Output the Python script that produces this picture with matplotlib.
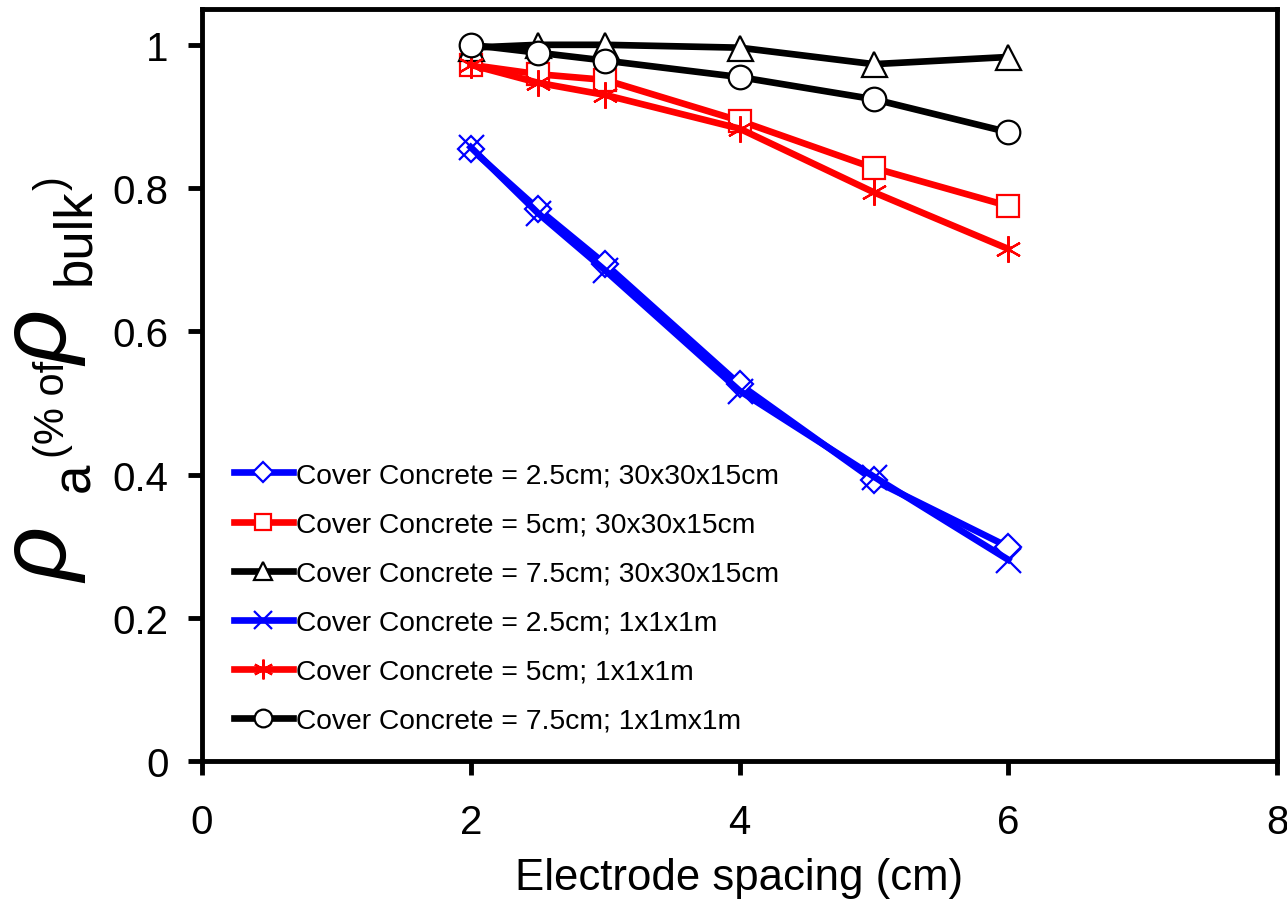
import matplotlib.pyplot as plt

plt.rcParams['font.family'] = ['Liberation Sans', 'DejaVu Sans']

# Espaçamento dos eletrodos (cm)
espacamento = [2, 2.5, 3, 4, 5, 6]

# Resistividade aparente normalizada
c25_30 = [0.855, 0.771, 0.694, 0.526, 0.392, 0.299]
c5_30 = [0.972, 0.959, 0.951, 0.894, 0.828, 0.775]
c75_30 = [0.996, 1.000, 1.000, 0.996, 0.973, 0.983]
c25_1m = [0.857, 0.765, 0.685, 0.517, 0.397, 0.281]
c5_1m = [0.972, 0.947, 0.930, 0.883, 0.794, 0.715]
c75_1m = [1.000, 0.989, 0.978, 0.955, 0.924, 0.878]

rotulos = [
    "Cover Concrete = 2.5cm; 30x30x15cm",
    "Cover Concrete = 5cm; 30x30x15cm",
    "Cover Concrete = 7.5cm; 30x30x15cm",
    "Cover Concrete = 2.5cm; 1x1x1m",
    "Cover Concrete = 5cm; 1x1x1m",
    "Cover Concrete = 7.5cm; 1x1mx1m",
]

W, H = 1287, 903
fig = plt.figure(figsize=(W / 100, H / 100), dpi=100)
ax = fig.add_axes([202 / W, 1 - 762 / H, 1075 / W, 752 / H])

lw = 4.8
ax.plot(espacamento, c25_30, color='blue', lw=lw, marker='D', ms=13, mfc='white',
        mec='blue', mew=1.6, label=rotulos[0])
ax.plot(espacamento, c5_30, color='red', lw=lw, marker='s', ms=16, mfc='white',
        mec='red', mew=1.6, label=rotulos[1])
ax.plot(espacamento, c75_30, color='black', lw=lw, marker='^', ms=18, mfc='white',
        mec='black', mew=1.6, label=rotulos[2])
ax.plot(espacamento, c25_1m, color='blue', lw=lw, marker='x', ms=18, mec='blue',
        mew=1.6, label=rotulos[3])
ax.plot(espacamento, c5_1m, color='red', lw=lw, marker=(6, 2, 0), ms=19, mec='red',
        mew=1.6, label=rotulos[4])
ax.plot(espacamento, c75_1m, color='black', lw=lw, marker='o', ms=17, mfc='white',
        mec='black', mew=1.6, label=rotulos[5])

ax.set_xlim(0, 8)
ax.set_ylim(0, 1.05)
ax.set_xticks([0, 2, 4, 6, 8])
ax.set_yticks([0, 0.2, 0.4, 0.6, 0.8, 1])
ax.set_yticklabels(['0', '0.2', '0.4', '0.6', '0.8', '1'])
ax.tick_params(direction='out', length=10, width=3.5, labelsize=29)
ax.tick_params(axis='x', pad=20)
ax.tick_params(axis='y', pad=14)
for s in ax.spines.values():
    s.set_linewidth(3.5)

ax.set_xlabel("Electrode spacing (cm)", fontsize=31.5, labelpad=12)

# rótulo do eixo y montado em partes (tamanhos diferentes)
def ytxt(s, xb, ys, size, style='normal'):
    fig.text(xb / W, 1 - ys / H, s, rotation=90, rotation_mode='anchor',
             ha='left', va='baseline', fontsize=size, style=style)

ytxt('ρ', 68, 583, 68, 'italic')
ytxt('a', 89, 492, 38)
ytxt('(% of', 64, 458, 30)
ytxt('ρ', 68, 366, 68, 'italic')
ytxt('bulk', 89, 285, 38)
ytxt(')', 64, 190, 30)

ax.legend(loc='lower left', bbox_to_anchor=(0.019, 0.021), frameon=False, fontsize=20.3,
          handlelength=2.1, handletextpad=0.1, labelspacing=0.82, borderaxespad=0,
          markerscale=0.75)

plt.savefig("out.png", dpi=100)
